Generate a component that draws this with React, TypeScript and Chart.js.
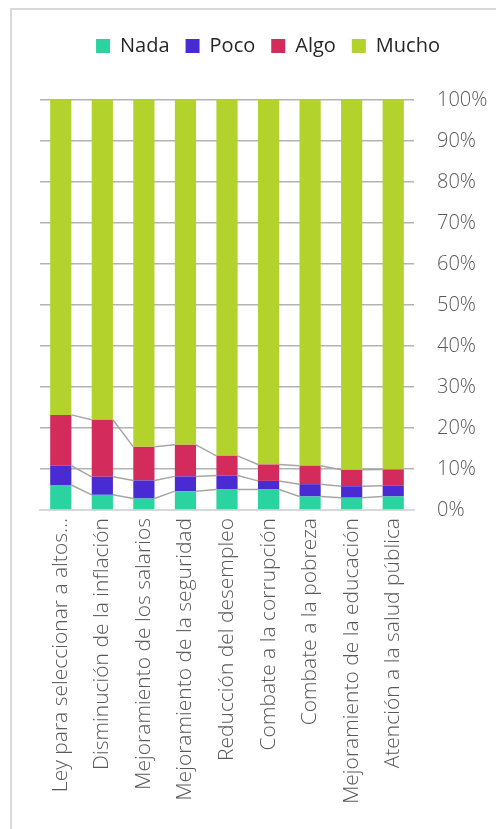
import React, { useEffect, useRef } from "react";
import { Chart, registerables } from "chart.js";

Chart.register(...registerables);

const categories = [
  "Ley para seleccionar a altos...",
  "Disminución de la inflación",
  "Mejoramiento de los salarios",
  "Mejoramiento de la seguridad",
  "Reducción del desempleo",
  "Combate a la corrupción",
  "Combate a la pobreza",
  "Mejoramiento de la educación",
  "Atención a la salud pública",
];
const nada = [6.1, 3.7, 2.8, 4.6, 5.0, 5.0, 3.3, 3.0, 3.3];
const poco = [4.7, 4.4, 4.4, 3.6, 3.4, 2.1, 3.0, 2.8, 2.6];
const algo = [12.4, 13.9, 8.2, 7.7, 4.8, 4.0, 4.5, 4.0, 4.0];
const mucho = [76.8, 78.0, 84.6, 84.1, 86.8, 88.9, 89.2, 90.2, 90.1];
const seriesNames = ["Nada", "Poco", "Algo", "Mucho"];
const seriesColors = ["#2bd3a0", "#4a2bd3", "#d32b5c", "#b3d22b"];

const FONT = "'Open Sans', sans-serif";

const seriesLines = {
  id: "seriesLines",
  afterDatasetsDraw(chart: any) {
    const ctx = chart.ctx;
    ctx.save();
    ctx.strokeStyle = "#a6a6a6";
    ctx.lineWidth = 1.5;
    for (let d = 0; d < 3; d++) {
      const meta = chart.getDatasetMeta(d);
      for (let j = 0; j < meta.data.length - 1; j++) {
        const a = meta.data[j].getProps(["x", "y", "width"], true);
        const b = meta.data[j + 1].getProps(["x", "y", "width"], true);
        ctx.beginPath();
        ctx.moveTo(a.x + a.width / 2, a.y);
        ctx.lineTo(b.x - b.width / 2, b.y);
        ctx.stroke();
      }
    }
    ctx.restore();
  },
};

const legendHeight = {
  id: "legendHeight",
  beforeInit(chart: any) {
    const orig = chart.legend.fit;
    chart.legend.fit = function () {
      orig.call(this);
      this.height = 80;
    };
  },
};

export default function App() {
  const ref = useRef<HTMLCanvasElement>(null);
  useEffect(() => {
    const values = [nada, poco, algo, mucho];
    const chart = new Chart(ref.current!, {
      type: "bar",
      data: {
        labels: categories,
        datasets: values.map((v, i) => ({
          label: seriesNames[i],
          data: v,
          backgroundColor: seriesColors[i],
          borderWidth: 0,
          barPercentage: 0.51,
          categoryPercentage: 1,
        })),
      },
      options: {
        animation: false,
        responsive: false,
        devicePixelRatio: 1,
        layout: { padding: { left: 40, top: 20, right: 0, bottom: 0 } },
        plugins: {
          tooltip: { enabled: false },
          legend: {
            position: "top",
            labels: {
              boxWidth: 14,
              boxHeight: 14,
              padding: 16,
              color: "#262626",
              font: { family: FONT, size: 20 },
            },
          },
        },
        scales: {
          x: {
            stacked: true,
            grid: { display: false, drawTicks: false },
            border: { display: true, color: "#d9d9d9", width: 2 },
            ticks: {
              minRotation: 90,
              maxRotation: 90,
              autoSkip: false,
              padding: 8,
              color: "#595959",
              font: { family: FONT, size: 21, weight: 300 },
            },
            afterFit: (s: any) => {
              s.height = 319;
            },
          },
          y: {
            stacked: true,
            position: "right",
            min: 0,
            max: 100,
            grid: {
              drawTicks: false,
              lineWidth: 1.5,
              color: (c: any) => (c.tick && c.tick.value === 0 ? "rgba(0,0,0,0)" : "#b3b3b3"),
            },
            border: { display: false },
            ticks: {
              stepSize: 10,
              padding: 23,
              color: "#595959",
              font: { family: FONT, size: 20, weight: 300 },
              callback: (v: any) => v + "%",
            },
            afterFit: (s: any) => {
              s.width = 82;
            },
          },
        },
      },
      plugins: [seriesLines, legendHeight],
    });
    return () => chart.destroy();
  }, []);

  return (
    <div
      style={{
        position: "fixed",
        left: 0,
        top: 0,
        width: 496,
        height: 829,
        overflow: "hidden",
        background: "#ffffff",
      }}
    >
      <div
        style={{
          position: "absolute",
          left: 10,
          top: 8,
          width: 520,
          height: 840,
          borderLeft: "2px solid #d9d9d9",
          borderTop: "2px solid #d9d9d9",
        }}
      />
      <canvas
        ref={ref}
        width={496}
        height={829}
        style={{ position: "absolute", left: 0, top: 0, width: 496, height: 829 }}
      />
    </div>
  );
}
